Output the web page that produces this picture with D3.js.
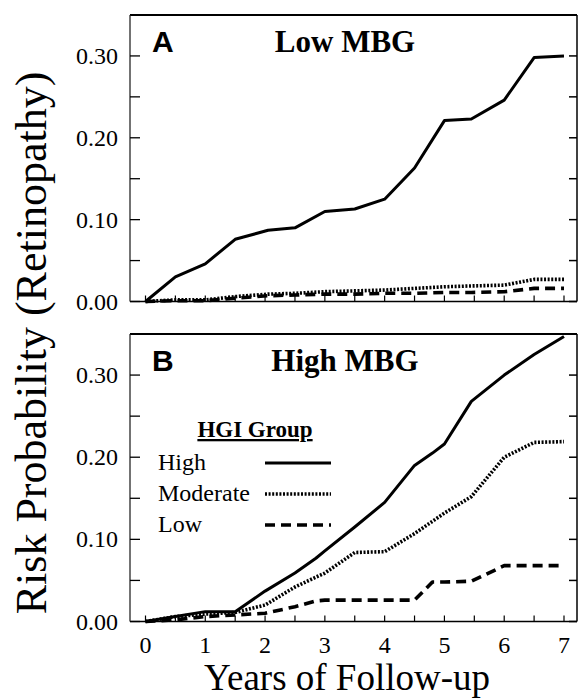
<!DOCTYPE html>
<html>
<head>
<meta charset="utf-8">
<script src="https://cdn.jsdelivr.net/npm/d3@7"></script>
<style>
  body { margin: 0; background: #fff; }
</style>
</head>
<body>
<svg id="chart" width="578" height="699"></svg>
<script>
// years of follow-up, sampled where the curves bend
var yearsA = [0, 0.5, 1, 1.5, 2.05, 2.5, 3, 3.5, 4, 4.5, 5, 5.45, 6, 6.5, 7];
var highA = [0, 0.030, 0.046, 0.076, 0.087, 0.090, 0.110, 0.113, 0.125, 0.163, 0.221, 0.223, 0.246, 0.298, 0.300];
var moderateA = [0, 0.002, 0.002, 0.006, 0.009, 0.010, 0.012, 0.013, 0.014, 0.016, 0.018, 0.019, 0.020, 0.027, 0.027];
var lowA = [0, 0.001, 0.001, 0.004, 0.007, 0.008, 0.009, 0.009, 0.010, 0.010, 0.011, 0.011, 0.012, 0.016, 0.016];

var yearsB = [0, 0.5, 1, 1.5, 2, 2.5, 2.85, 3, 3.5, 4, 4.5, 4.8, 5, 5.45, 6, 6.5, 7];
var highB = [0, 0.006, 0.012, 0.012, 0.037, 0.059, 0.077, 0.086, 0.115, 0.145, 0.190, 0.205, 0.216, 0.268, 0.300, 0.325, 0.347];
var moderateB = [0, 0.006, 0.009, 0.011, 0.020, 0.042, 0.054, 0.059, 0.084, 0.085, 0.107, 0.122, 0.132, 0.152, 0.200, 0.218, 0.219];
var lowB = [0, 0.002, 0.006, 0.008, 0.010, 0.018, 0.025, 0.026, 0.026, 0.026, 0.026, 0.048, 0.048, 0.049, 0.068, 0.068, 0.068];

var xTickLabels = ['0', '1', '2', '3', '4', '5', '6', '7'];
var yTickValues = [0, 0.10, 0.20, 0.30];
var groupNames = ['High', 'Moderate', 'Low'];

var serifFont = "'Times New Roman'";
var sansFont = "'Liberation Sans'";

var lineStyles = {
	High: { dash: null, width: 3 },
	Moderate: { dash: '2,1.6', width: 3.6 },
	Low: { dash: '10,6', width: 3.6 }
};

var svg = d3.select('#chart');

var frameLeft = 130, frameRight = 577;
var x = d3.scaleLinear().domain([0, 7]).range([145.5, 564]);

var panels = [
	{ letter: 'A', title: 'Low MBG', top: 15, bottom: 301.5, years: yearsA,
		series: { High: highA, Moderate: moderateA, Low: lowA }, xLabels: false },
	{ letter: 'B', title: 'High MBG', top: 334, bottom: 621.5, years: yearsB,
		series: { High: highB, Moderate: moderateB, Low: lowB }, xLabels: true }
];

function addText(parent, family, size, weight) {
	return parent.append('text')
		.style('font-family', family)
		.style('font-size', size + 'px')
		.style('font-weight', weight || 'normal')
		.style('fill', '#000');
}

panels.forEach(function(p) {
	var y = d3.scaleLinear().domain([0, 0.35]).range([p.bottom, p.top]);
	var g = svg.append('g');

	// frame
	g.append('line').attr('x1', frameLeft).attr('x2', frameRight).attr('y1', p.top).attr('y2', p.top)
		.attr('stroke', '#000').attr('stroke-width', 2);
	g.append('line').attr('x1', frameLeft).attr('x2', frameRight).attr('y1', p.bottom).attr('y2', p.bottom)
		.attr('stroke', '#000').attr('stroke-width', 1.5);
	g.append('line').attr('x1', frameLeft).attr('x2', frameLeft).attr('y1', p.top).attr('y2', p.bottom)
		.attr('stroke', '#444').attr('stroke-width', 1.5);
	g.append('line').attr('x1', frameRight).attr('x2', frameRight).attr('y1', p.top).attr('y2', p.bottom)
		.attr('stroke', '#000').attr('stroke-width', 1.5);

	// y ticks, left and right, every 0.05
	var yTicks = d3.range(0, 0.351, 0.05);
	g.selectAll('.ytl').data(yTicks).enter().append('line')
		.attr('x1', frameLeft).attr('x2', frameLeft + 10)
		.attr('y1', function(d) { return y(d); }).attr('y2', function(d) { return y(d); })
		.attr('stroke', '#000').attr('stroke-width', 1.3);
	g.selectAll('.ytr').data(yTicks).enter().append('line')
		.attr('x1', frameRight - 8).attr('x2', frameRight)
		.attr('y1', function(d) { return y(d); }).attr('y2', function(d) { return y(d); })
		.attr('stroke', '#000').attr('stroke-width', 1.5);

	yTickValues.forEach(function(v) {
		addText(g, serifFont, 24).attr('x', 118).attr('y', y(v) + 8)
			.attr('text-anchor', 'end')
			.text(d3.format('.2f')(v));
	});

	// x ticks every half year, pointing up
	g.selectAll('.xt').data(d3.range(0, 7.01, 0.5)).enter().append('line')
		.attr('x1', function(d) { return x(d); }).attr('x2', function(d) { return x(d); })
		.attr('y1', p.bottom).attr('y2', p.bottom - 6)
		.attr('stroke', '#000').attr('stroke-width', 1.2);

	if (p.xLabels) {
		xTickLabels.forEach(function(lab) {
			addText(g, serifFont, 24).attr('x', x(+lab)).attr('y', p.bottom + 31)
				.attr('text-anchor', 'middle')
				.text(lab);
		});
	}

	// curves
	var line = d3.line()
		.x(function(d) { return x(d[0]); })
		.y(function(d) { return y(d[1]); });
	groupNames.slice().reverse().forEach(function(name) {
		var pts = p.years.map(function(t, i) { return [t, p.series[name][i]]; });
		g.append('path').datum(pts)
			.attr('d', line)
			.attr('fill', 'none')
			.attr('stroke', '#000')
			.attr('stroke-width', lineStyles[name].width)
			.attr('stroke-dasharray', lineStyles[name].dash)
			.attr('stroke-linejoin', 'round');
	});

	addText(g, sansFont, 30, 'bold').attr('x', 152).attr('y', p.top + 37).text(p.letter);
	addText(g, serifFont, 31, 'bold').attr('x', 345).attr('y', p.top + 37)
		.attr('text-anchor', 'middle')
		.text(p.title);
});

// legend inside panel B
var legend = svg.append('g');
addText(legend, serifFont, 23, 'bold').attr('x', 255).attr('y', 437)
	.attr('text-anchor', 'middle')
	.style('text-decoration', 'underline')
	.text('HGI Group');
var legendY = d3.scalePoint().domain(groupNames).range([470, 532]);
groupNames.forEach(function(name) {
	addText(legend, serifFont, 24).attr('x', 158).attr('y', legendY(name)).text(name);
	legend.append('line')
		.attr('x1', 265).attr('x2', 331)
		.attr('y1', legendY(name) - 7).attr('y2', legendY(name) - 7)
		.attr('stroke', '#000')
		.attr('stroke-width', lineStyles[name].width)
		.attr('stroke-dasharray', lineStyles[name].dash);
});

// axis titles
addText(svg, serifFont, 44).attr('transform', 'translate(46, 343) rotate(-90)')
	.attr('text-anchor', 'middle')
	.text('Risk Probability (Retinopathy)');
addText(svg, serifFont, 37).attr('x', 347).attr('y', 690)
	.attr('text-anchor', 'middle')
	.text('Years of Follow-up');
</script>
</body>
</html>
